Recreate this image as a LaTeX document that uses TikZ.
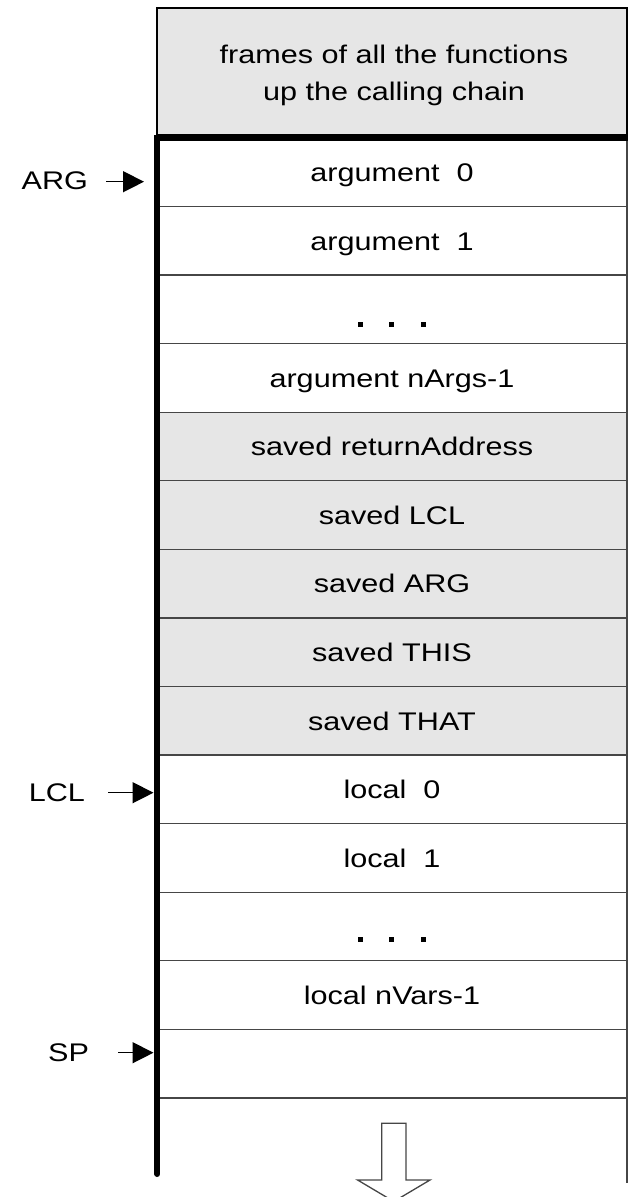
\documentclass[tikz,border=0pt]{standalone}
\usepackage{fontspec}
\usepackage{graphicx}
\setmainfont{Liberation Sans}
\usetikzlibrary{arrows.meta}

% stack text is set slightly wide
\newcommand{\wtext}[1]{\scalebox{1.2}[1]{#1}}

\definecolor{framegray}{RGB}{230,230,230}
\definecolor{ruleline}{RGB}{70,70,70}

\begin{document}
\begin{tikzpicture}[x=1pt,y=-1pt,
  every node/.style={inner sep=0pt, outer sep=0pt},
  txt/.style={font=\fontsize{25.5}{30}\selectfont},
  slot/.style={txt, rectangle, draw=ruleline, line width=1.3pt,
    minimum width=470pt, minimum height=68.57pt,
    text height=18.3pt, text depth=0pt},
  plain/.style={slot, fill=white},
  saved/.style={slot, fill=framegray},
  ptrlabel/.style={txt, anchor=base east},
  ptr/.style={line width=1.4pt, -{Triangle[length=21pt,width=21pt]}},
  spine/.style={line width=6pt, line cap=round, line join=miter},
  dot/.style={fill=black}
]
\useasboundingbox (0,0) rectangle (628,1197);
\clip (0,0) rectangle (628,1197);

% frames of the callers
\node[rectangle, draw=black, line width=1.1pt, fill=framegray,
      minimum width=470pt, minimum height=127pt] (callers) at (392,71.5) {};
\node[txt, anchor=base] (callers1) at (394,63.3) {\wtext{frames of all the functions}};
\node[txt, anchor=base] (callers2) at (394,100) {\wtext{up the calling chain}};

% right edge of the stack, open below
\draw[ruleline, line width=1.3pt] (627,138) -- (627,1183);

% stack slots
\node[plain] (arg0)  at (392,172.3) {\wtext{argument\ \ 0}};
\node[plain] (arg1)  at (392,240.9) {\wtext{argument\ \ 1}};
\node[plain] (argdots) at (392,309.4) {};
\node[plain] (argn)  at (392,378.0) {\wtext{argument nArgs-1}};
\node[saved] (ret)   at (392,446.6) {\wtext{saved returnAddress}};
\node[saved] (slcl)  at (392,515.1) {\wtext{saved LCL}};
\node[saved] (sarg)  at (392,583.7) {\wtext{saved ARG}};
\node[saved] (sthis) at (392,652.3) {\wtext{saved THIS}};
\node[saved] (sthat) at (392,720.9) {\wtext{saved THAT}};
\node[plain] (loc0)  at (392,789.4) {\wtext{local\ \ 0}};
\node[plain] (loc1)  at (392,858.0) {\wtext{local\ \ 1}};
\node[plain] (locdots) at (392,926.6) {};
\node[plain] (locn)  at (392,995.1) {\wtext{local nVars-1}};
\node[plain] (free)  at (392,1063.7) {};

% ellipses
\foreach \r/\dy in {argdots/14.8, locdots/12.5}{
  \foreach \dx in {-31.5,0,31.5}{
    \fill[dot] ([xshift=\dx pt-0.5pt, yshift=-\dy pt]\r.center) ++(-2.5,-2.5) rectangle ++(5,5);
  }
}

% thick frame boundary
\draw[spine] (627,138.3) -- (157.4,138.3) -- (157.4,1174);

% growth direction
\draw[ruleline, line width=1.3pt, fill=white]
  (381.7,1123.3) -- (406,1123.3) -- (406,1180) -- (430,1180)
  -- (393.8,1201.5) -- (357.6,1180) -- (381.7,1180) -- cycle;

% pointers
\node[ptrlabel] (argl) at (88,189.3) {\wtext{ARG}};
\coordinate (argtip) at (144,181.7);
\draw[ptr, shorten <=18pt] (argl.east |- argtip) -- (argtip);

\node[ptrlabel] (lcll) at (85,801) {\wtext{LCL}};
\coordinate (lcltip) at (153.5,792.7);
\draw[ptr, shorten <=23pt] (lcll.east |- lcltip) -- (lcltip);

\node[ptrlabel] (spl) at (89,1061.5) {\wtext{SP}};
\coordinate (sptip) at (153.5,1052.7);
\draw[ptr, shorten <=29pt] (spl.east |- sptip) -- (sptip);
\end{tikzpicture}
\end{document}
